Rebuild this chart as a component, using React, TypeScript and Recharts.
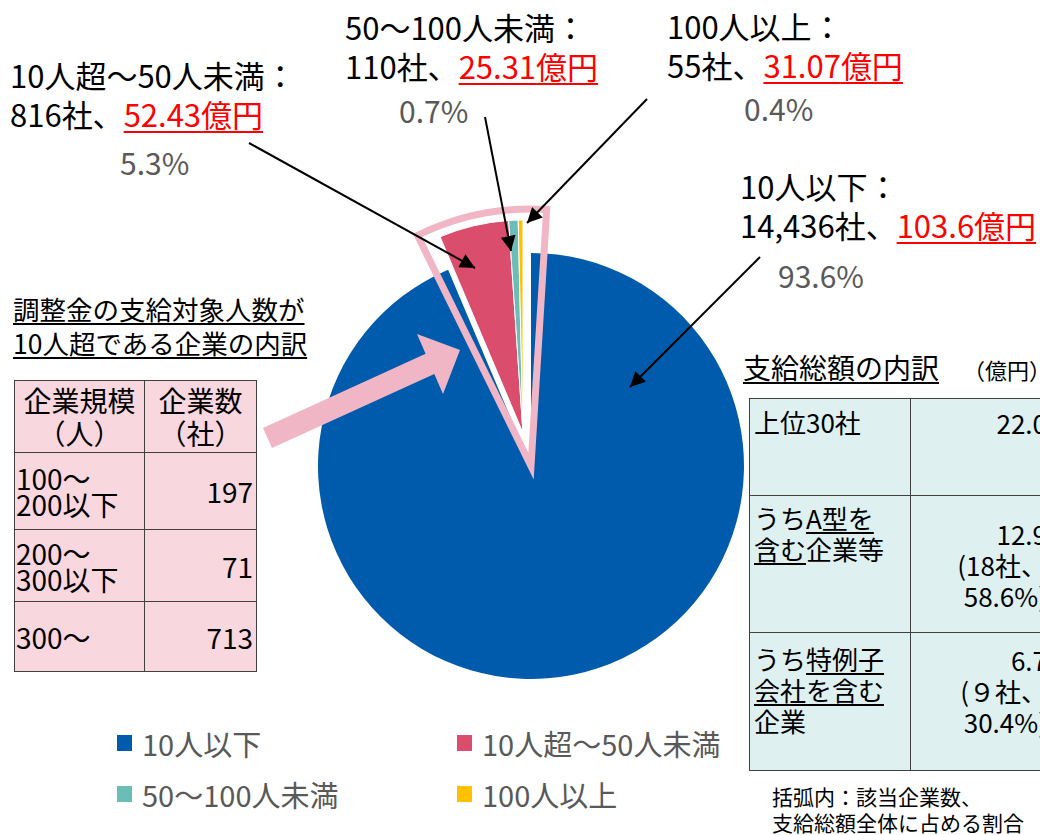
import { PieChart, Pie, Cell } from 'recharts'

const CATEGORIES = ['10人以下', '10人超～50人未満', '50～100人未満', '100人以上']
const COMPANIES = [14436, 816, 110, 55]
const AMOUNTS = ['103.6', '52.43', '25.31', '31.07']
const SHARES = ['93.6%', '5.3%', '0.7%', '0.4%']
const COLORS = ['#005BAC', '#DB4D6D', '#6BBDB8', '#FFC000']

const SIZE_RANGES = [['100～', '200以下'], ['200～', '300以下'], ['300～']]
const SIZE_COUNTS = [197, 71, 713]

const TOP_AMOUNTS = ['22.0', '12.9', '6.7']
const TOP_COMPANIES = ['', '18', '９']
const TOP_SHARES = ['', '58.6%', '30.4%']

const FONT = '"Noto Sans CJK JP", "Noto Sans", sans-serif'
const OUTLINE = '#F0B6C6'

const pieData = CATEGORIES.map((name, i) => ({ name, value: COMPANIES[i] }))
const total = COMPANIES.reduce((a, b) => a + b, 0)
const smallSpan = ((total - COMPANIES[0]) / total) * 360

// callout positions: x, first line centre, percent x, percent centre
const CALLOUTS = [
  { i: 0, x: 740, y: 185, px: 778, py: 275 },
  { i: 1, x: 10, y: 74, px: 120, py: 162 },
  { i: 2, x: 345, y: 26, px: 399, py: 110 },
  { i: 3, x: 667, y: 25, px: 744, py: 108 },
]

function Callout({ i, x, y, px, py }: { i: number; x: number; y: number; px: number; py: number }) {
  return (
    <>
      <div style={{ position: 'absolute', left: x, top: y - 19, lineHeight: '39px', fontSize: 31, color: '#000', whiteSpace: 'nowrap' }}>
        <div>{CATEGORIES[i]}：</div>
        <div>
          {COMPANIES[i].toLocaleString('en-US')}社、
          <span style={{ color: '#FF0000', textDecoration: 'underline', textDecorationThickness: 2, textUnderlineOffset: 4 }}>
            {AMOUNTS[i]}億円
          </span>
        </div>
      </div>
      <div style={{ position: 'absolute', left: px, top: py - 19, lineHeight: '39px', fontSize: 30, color: '#595959', whiteSpace: 'nowrap' }}>
        {SHARES[i]}
      </div>
    </>
  )
}

const u = { textDecoration: 'underline', textUnderlineOffset: 3 } as const

export default function App() {
  const cellL = { border: '1.5px solid #404040', padding: '0 3px', verticalAlign: 'middle' } as const
  const cellR = { border: '1.5px solid #404040', padding: '0 4px', verticalAlign: 'top' } as const
  return (
    <div style={{ position: 'absolute', left: 0, top: 0, width: 1040, height: 835, overflow: 'hidden', background: '#fff', fontFamily: FONT }}>
      <div style={{ position: 'absolute', left: 0, top: 0 }}>
        <PieChart width={1040} height={835} margin={{ top: 0, right: 0, bottom: 0, left: 0 }}>
          <Pie
            data={pieData}
            dataKey="value"
            cx={531}
            cy={466}
            outerRadius={213}
            startAngle={90}
            endAngle={-270}
            isAnimationActive={false}
          >
            {pieData.map((d, i) => (
              <Cell key={`b-${d.name}`} fill={i === 0 ? COLORS[0] : 'none'} stroke="none" />
            ))}
          </Pie>
          <Pie
            data={pieData}
            dataKey="value"
            cx={523}
            cy={433}
            outerRadius={213}
            startAngle={90}
            endAngle={-270}
            isAnimationActive={false}
          >
            {pieData.map((d, i) => (
              <Cell key={`e-${d.name}`} fill={i === 0 ? 'none' : COLORS[i]} stroke={i === 0 ? 'none' : '#fff'} strokeWidth={1} />
            ))}
          </Pie>
          <Pie
            data={[{ name: 'outline', value: 1 }]}
            dataKey="value"
            cx={531}
            cy={466}
            outerRadius={257}
            startAngle={86.5}
            endAngle={90 + smallSpan + 3.3}
            isAnimationActive={false}
          >
            <Cell fill="none" stroke={OUTLINE} strokeWidth={7} />
          </Pie>
        </PieChart>
      </div>

      <svg width={1040} height={835} style={{ position: 'absolute', left: 0, top: 0, pointerEvents: 'none' }}>
        <defs>
          <marker id="ah" viewBox="0 0 10 10" refX="10" refY="5" markerUnits="userSpaceOnUse" markerWidth="18" markerHeight="15" orient="auto">
            <path d="M0,0 L10,5 L0,10 z" fill="#000" />
          </marker>
        </defs>
        <polygon
          points="263,428 425.6,353.8 417,334 460,350 443,394 434.3,374 272,448"
          fill={OUTLINE}
        />
        <line x1={249} y1={143} x2={475} y2={268} stroke="#000" strokeWidth={2} markerEnd="url(#ah)" />
        <line x1={485} y1={117} x2={511} y2={251} stroke="#000" strokeWidth={2} markerEnd="url(#ah)" />
        <line x1={647} y1={99} x2={527} y2={223} stroke="#000" strokeWidth={2} markerEnd="url(#ah)" />
        <line x1={760} y1={257} x2={630} y2={387} stroke="#000" strokeWidth={2} markerEnd="url(#ah)" />
      </svg>

      {CALLOUTS.map((c) => (
        <Callout key={c.i} {...c} />
      ))}

      {/* left: breakdown of companies with more than 10 */}
      <div style={{ position: 'absolute', left: 13, top: 292, fontSize: 26.5, lineHeight: '34px', color: '#000', whiteSpace: 'nowrap' }}>
        <div style={u}>調整金の支給対象人数が</div>
        <div style={u}>10人超である企業の内訳</div>
      </div>
      <table style={{ position: 'absolute', left: 14, top: 380, width: 242, borderCollapse: 'collapse', tableLayout: 'fixed', background: '#F8D7DF', fontSize: 28, lineHeight: '26px', color: '#000' }}>
        <colgroup>
          <col style={{ width: 130 }} />
          <col style={{ width: 112 }} />
        </colgroup>
        <tbody>
          <tr style={{ height: 72 }}>
            <td style={{ ...cellL, textAlign: 'center', lineHeight: '33px' }}>企業規模<br />（人）</td>
            <td style={{ ...cellL, textAlign: 'center', lineHeight: '33px' }}>企業数<br />（社）</td>
          </tr>
          {SIZE_RANGES.map((r, i) => (
            <tr key={r[0]} style={{ height: [77, 72, 70][i] }}>
              <td style={{ ...cellL, padding: '0 1px' }}>
                {r.map((line) => (
                  <div key={line}>{line}</div>
                ))}
              </td>
              <td style={{ ...cellL, textAlign: 'right' }}>{SIZE_COUNTS[i]}</td>
            </tr>
          ))}
        </tbody>
      </table>

      {/* legend */}
      {CATEGORIES.map((name, i) => (
        <div
          key={name}
          style={{ position: 'absolute', left: i % 2 === 0 ? 117 : 457, top: (i < 2 ? 743 : 794) - 18, height: 36, display: 'flex', alignItems: 'center', fontSize: 29, color: '#595959', whiteSpace: 'nowrap' }}
        >
          <span style={{ display: 'inline-block', width: 15, height: 16, background: COLORS[i], marginRight: 10 }} />
          {name}
        </div>
      ))}

      {/* right: breakdown of total payment */}
      <div style={{ position: 'absolute', left: 743, top: 350, fontSize: 28, lineHeight: '34px', color: '#000', whiteSpace: 'nowrap' }}>
        <span style={u}>支給総額の内訳</span>
        <span style={{ fontSize: 22, marginLeft: 24 }}>（億円）</span>
      </div>
      <table style={{ position: 'absolute', left: 749, top: 398, width: 306, borderCollapse: 'collapse', tableLayout: 'fixed', background: '#DFF0F0', fontSize: 26, lineHeight: '31px', color: '#000' }}>
        <colgroup>
          <col style={{ width: 161 }} />
          <col style={{ width: 145 }} />
        </colgroup>
        <tbody>
          <tr style={{ height: 97 }}>
            <td style={{ ...cellR, paddingTop: 7 }}>上位30社</td>
            <td style={{ ...cellR, paddingTop: 8, paddingRight: 8, textAlign: 'right' }}>{TOP_AMOUNTS[0]}</td>
          </tr>
          <tr style={{ height: 137 }}>
            <td style={{ ...cellR, paddingTop: 6 }}>
              うち<span style={u}>A型を</span>
              <br />
              <span style={u}>含む</span>企業等
            </td>
            <td style={{ ...cellR, paddingTop: 22, paddingRight: 8, textAlign: 'right' }}>
              {TOP_AMOUNTS[1]}
              <br />({TOP_COMPANIES[1]}社、
              <br />
              {TOP_SHARES[1]})
            </td>
          </tr>
          <tr style={{ height: 138 }}>
            <td style={{ ...cellR, paddingTop: 10 }}>
              うち<span style={u}>特例子</span>
              <br />
              <span style={u}>会社を含む</span>
              <br />
              企業
            </td>
            <td style={{ ...cellR, paddingTop: 11, paddingRight: 8, textAlign: 'right' }}>
              {TOP_AMOUNTS[2]}
              <br />({TOP_COMPANIES[2]}社、
              <br />
              {TOP_SHARES[2]})
            </td>
          </tr>
        </tbody>
      </table>
      <div style={{ position: 'absolute', left: 772, top: 783, fontSize: 21, lineHeight: '26px', color: '#000', whiteSpace: 'nowrap' }}>
        <div>括弧内：該当企業数、</div>
        <div>支給総額全体に占める割合</div>
      </div>
    </div>
  )
}
